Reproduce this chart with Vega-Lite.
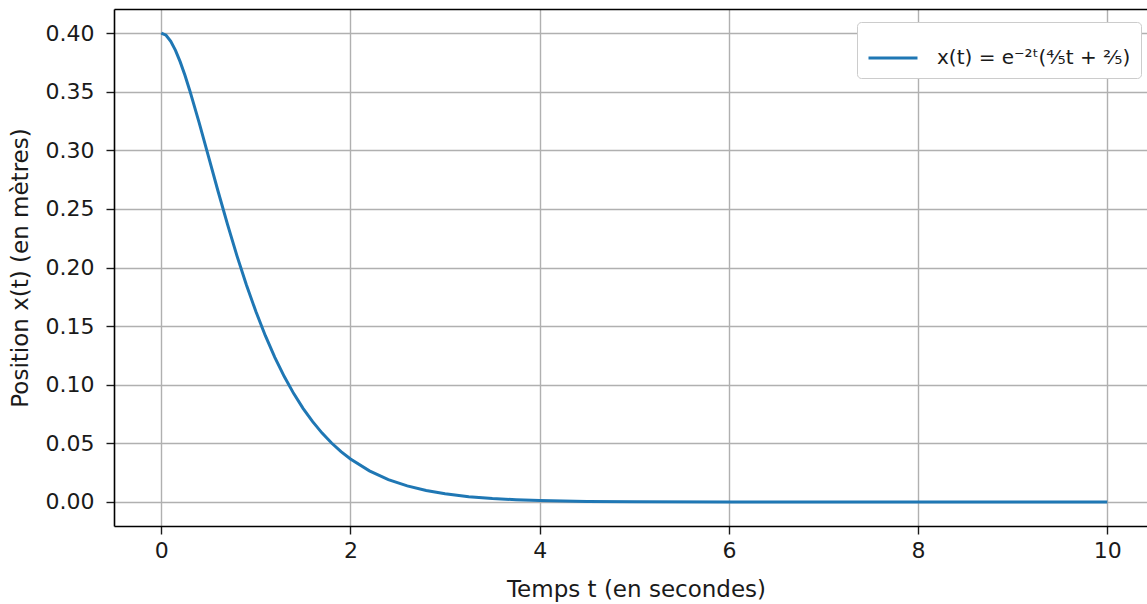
{
  "$schema": "https://vega.github.io/schema/vega-lite/v6.json",
  "autosize": {"type": "none"},
  "padding": {"left": 114, "top": 9, "right": 0, "bottom": 78},
  "width": 1033,
  "height": 517,
  "background": "white",
  "config": {
    "view": {"stroke": null},
    "font": "DejaVu Sans",
    "axis": {
      "labelFont": "DejaVu Sans",
      "titleFont": "DejaVu Sans",
      "labelFontSize": 22,
      "titleFontSize": 23,
      "labelColor": "#1a1a1a",
      "titleColor": "#1a1a1a",
      "titleFontWeight": "normal",
      "domainColor": "#000000",
      "domainWidth": 1.6,
      "tickColor": "#1a1a1a",
      "tickSize": 8,
      "tickWidth": 1.4,
      "gridColor": "#b0b0b0",
      "gridWidth": 1.4
    }
  },
  "data": {
    "values": [
      {"t": 0, "x": 0.4, "serie": "x(t) = e⁻²ᵗ(⅘t + ⅖)"},
      {"t": 0.05, "x": 0.398128, "serie": "x(t) = e⁻²ᵗ(⅘t + ⅖)"},
      {"t": 0.1, "x": 0.392991, "serie": "x(t) = e⁻²ᵗ(⅘t + ⅖)"},
      {"t": 0.15, "x": 0.385225, "serie": "x(t) = e⁻²ᵗ(⅘t + ⅖)"},
      {"t": 0.2, "x": 0.375379, "serie": "x(t) = e⁻²ᵗ(⅘t + ⅖)"},
      {"t": 0.25, "x": 0.363918, "serie": "x(t) = e⁻²ᵗ(⅘t + ⅖)"},
      {"t": 0.3, "x": 0.35124, "serie": "x(t) = e⁻²ᵗ(⅘t + ⅖)"},
      {"t": 0.4, "x": 0.323517, "serie": "x(t) = e⁻²ᵗ(⅘t + ⅖)"},
      {"t": 0.5, "x": 0.294304, "serie": "x(t) = e⁻²ᵗ(⅘t + ⅖)"},
      {"t": 0.6, "x": 0.265051, "serie": "x(t) = e⁻²ᵗ(⅘t + ⅖)"},
      {"t": 0.7, "x": 0.236733, "serie": "x(t) = e⁻²ᵗ(⅘t + ⅖)"},
      {"t": 0.8, "x": 0.209972, "serie": "x(t) = e⁻²ᵗ(⅘t + ⅖)"},
      {"t": 0.9, "x": 0.185135, "serie": "x(t) = e⁻²ᵗ(⅘t + ⅖)"},
      {"t": 1.0, "x": 0.162402, "serie": "x(t) = e⁻²ᵗ(⅘t + ⅖)"},
      {"t": 1.1, "x": 0.141828, "serie": "x(t) = e⁻²ᵗ(⅘t + ⅖)"},
      {"t": 1.2, "x": 0.123376, "serie": "x(t) = e⁻²ᵗ(⅘t + ⅖)"},
      {"t": 1.3, "x": 0.106954, "serie": "x(t) = e⁻²ᵗ(⅘t + ⅖)"},
      {"t": 1.4, "x": 0.092431, "serie": "x(t) = e⁻²ᵗ(⅘t + ⅖)"},
      {"t": 1.5, "x": 0.079659, "serie": "x(t) = e⁻²ᵗ(⅘t + ⅖)"},
      {"t": 1.6, "x": 0.06848, "serie": "x(t) = e⁻²ᵗ(⅘t + ⅖)"},
      {"t": 1.7, "x": 0.058737, "serie": "x(t) = e⁻²ᵗ(⅘t + ⅖)"},
      {"t": 1.8, "x": 0.050276, "serie": "x(t) = e⁻²ᵗ(⅘t + ⅖)"},
      {"t": 1.9, "x": 0.042952, "serie": "x(t) = e⁻²ᵗ(⅘t + ⅖)"},
      {"t": 2.0, "x": 0.036631, "serie": "x(t) = e⁻²ᵗ(⅘t + ⅖)"},
      {"t": 2.2, "x": 0.026518, "serie": "x(t) = e⁻²ᵗ(⅘t + ⅖)"},
      {"t": 2.4, "x": 0.019094, "serie": "x(t) = e⁻²ᵗ(⅘t + ⅖)"},
      {"t": 2.6, "x": 0.013682, "serie": "x(t) = e⁻²ᵗ(⅘t + ⅖)"},
      {"t": 2.8, "x": 0.009763, "serie": "x(t) = e⁻²ᵗ(⅘t + ⅖)"},
      {"t": 3.0, "x": 0.006941, "serie": "x(t) = e⁻²ᵗ(⅘t + ⅖)"},
      {"t": 3.25, "x": 0.004509, "serie": "x(t) = e⁻²ᵗ(⅘t + ⅖)"},
      {"t": 3.5, "x": 0.002918, "serie": "x(t) = e⁻²ᵗ(⅘t + ⅖)"},
      {"t": 3.75, "x": 0.00188, "serie": "x(t) = e⁻²ᵗ(⅘t + ⅖)"},
      {"t": 4.0, "x": 0.001207, "serie": "x(t) = e⁻²ᵗ(⅘t + ⅖)"},
      {"t": 4.5, "x": 0.000494, "serie": "x(t) = e⁻²ᵗ(⅘t + ⅖)"},
      {"t": 5.0, "x": 0.0002, "serie": "x(t) = e⁻²ᵗ(⅘t + ⅖)"},
      {"t": 6.0, "x": 0.000032, "serie": "x(t) = e⁻²ᵗ(⅘t + ⅖)"},
      {"t": 7.0, "x": 0.000005, "serie": "x(t) = e⁻²ᵗ(⅘t + ⅖)"},
      {"t": 8.0, "x": 0.0000008, "serie": "x(t) = e⁻²ᵗ(⅘t + ⅖)"},
      {"t": 9.0, "x": 0.0000001, "serie": "x(t) = e⁻²ᵗ(⅘t + ⅖)"},
      {"t": 10.0, "x": 0.0, "serie": "x(t) = e⁻²ᵗ(⅘t + ⅖)"}
    ]
  },
  "layer": [
    {
      "mark": {"type": "line", "strokeWidth": 3, "clip": true},
      "encoding": {
        "x": {
          "field": "t", "type": "quantitative",
          "scale": {"domain": [-0.5, 10.42], "nice": false, "zero": false},
          "axis": {"values": [0, 2, 4, 6, 8, 10], "format": "d", "title": "Temps t (en secondes)", "labelPadding": 6, "titlePadding": 17, "titleX": 522}
        },
        "y": {
          "field": "x", "type": "quantitative",
          "scale": {"domain": [-0.0205, 0.4205], "nice": false, "zero": false},
          "axis": {"values": [0, 0.05, 0.1, 0.15, 0.2, 0.25, 0.3, 0.35, 0.4], "format": ".2f", "title": "Position x(t) (en mètres)", "labelPadding": 12, "titlePadding": 13}
        },
        "color": {
          "field": "serie", "type": "nominal",
          "scale": {"range": ["#1f77b4"]},
          "legend": {
            "title": null,
            "orient": "none",
            "legendX": 743,
            "legendY": 13,
            "padding": 10,
            "fillColor": "white",
            "strokeColor": "#cccccc",
            "cornerRadius": 4,
            "labelFont": "DejaVu Sans",
            "labelFontSize": 20,
            "labelLimit": 400,
            "labelColor": "#1a1a1a",
            "symbolType": "stroke",
            "symbolStrokeWidth": 3,
            "symbolSize": 2400,
            "labelOffset": 18
          }
        }
      }
    },
    {
      "mark": {"type": "line", "strokeOpacity": 0},
      "encoding": {
        "x": {
          "field": "t", "type": "quantitative",
          "scale": {"domain": [-0.5, 10.42], "nice": false, "zero": false},
          "axis": {"orient": "top", "labels": false, "ticks": false, "grid": false, "domain": true, "title": null}
        },
        "y": {"field": "x", "type": "quantitative"}
      }
    }
  ],
  "resolve": {"axis": {"x": "independent"}}
}
